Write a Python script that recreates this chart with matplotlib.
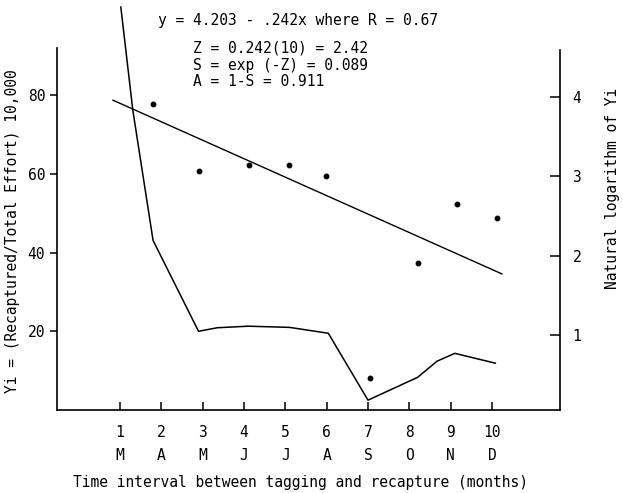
import matplotlib
matplotlib.use("Agg")
import matplotlib.pyplot as plt

W, H = 623, 493
plt.rcParams['font.family'] = ['DejaVu Sans Mono']
plt.rcParams['font.size'] = 10.5

# Data
interval_ticks = [1, 2, 3, 4, 5, 6, 7, 8, 9, 10]
month_labels = ['M', 'A', 'M', 'J', 'J', 'A', 'S', 'O', 'N', 'D']
left_ticks = [20, 40, 60, 80]
right_ticks = [1, 2, 3, 4]

# Yi curve (left axis)
yi_x = [1.02, 1.31, 1.80, 2.90, 3.35, 4.10, 5.10, 6.04, 7.00, 8.20, 8.67, 9.10, 10.08]
yi_y = [102.4, 76.2, 43.1, 20.0, 20.9, 21.3, 21.0, 19.5, 2.5, 8.3, 12.4, 14.4, 11.9]

# ln(Yi) points (right axis)
ln_x = [1.79, 2.91, 4.12, 5.10, 5.99, 7.05, 8.20, 9.16, 10.13]
ln_y = [3.91, 3.07, 3.14, 3.14, 3.00, 0.46, 1.91, 2.65, 2.47]

# Regression line endpoints (right axis)
reg_x = [0.83, 10.24]
reg_y = [3.96, 1.77]

eq_text = "y = 4.203 - .242x where R = 0.67"
calc_lines = ["Z = 0.242(10) = 2.42", "S = exp (-Z) = 0.089", "A = 1-S = 0.911"]
xlabel = "Time interval between tagging and recapture (months)"
ylabel_left = "Yi = (Recaptured/Total Effort) 10,000"
ylabel_right = "Natural logarithm of Yi"

fig = plt.figure(figsize=(W / 100, H / 100), dpi=100)
ax = fig.add_axes([57 / W, (H - 410) / H, (560 - 57) / W, 410 / H])
ax.set_xlim(-0.524, 11.645)
ax.set_ylim(0, 104.2)

ax.plot(yi_x, yi_y, color='black', lw=1.1)

for s in ['top', 'right']:
    ax.spines[s].set_visible(False)
ax.spines['left'].set_bounds(0, 92)
ax.spines['left'].set_linewidth(1.2)
ax.spines['bottom'].set_linewidth(1.2)

ax.set_yticks(left_ticks)
ax.set_yticklabels([str(v) for v in left_ticks])
ax.tick_params(axis='y', direction='out', length=5, width=1.1, pad=3.5)
ax.set_xticks(interval_ticks)
ax.set_xticklabels([str(v) for v in interval_ticks])
ax.tick_params(axis='x', direction='in', length=6, width=1.1, pad=11)

for xv, m in zip(interval_ticks, month_labels):
    ax.text(xv, -45 / 410, m, transform=ax.get_xaxis_transform(),
            ha='center', va='center')

ax2 = ax.twinx()
ax2.set_ylim(0.0546, 5.223)
for s in ['top', 'left', 'bottom']:
    ax2.spines[s].set_visible(False)
ax2.spines['right'].set_bounds(0.0546, 4.59)
ax2.spines['right'].set_linewidth(1.2)
ax2.set_yticks(right_ticks)
ax2.set_yticklabels([str(v) for v in right_ticks])
ax2.tick_params(axis='y', direction='in', length=7, width=1.1, pad=9)

ax2.plot(ln_x, ln_y, linestyle='none', marker='o', markersize=3.2, color='black')
ax2.plot(reg_x, reg_y, color='black', lw=1.0)

fig.text(158 / W, 1 - 20 / H, eq_text, ha='left', va='center')
for i, line in enumerate(calc_lines):
    fig.text(193 / W, 1 - (48 + 17 * i) / H, line, ha='left', va='center',
             linespacing=1.0)

fig.text(300.5 / W, 1 - 483 / H, xlabel, ha='center', va='center')
fig.text(13 / W, 1 - 231 / H, ylabel_left, ha='center', va='center', rotation=90)
fig.text(612 / W, 1 - 188 / H, ylabel_right, ha='center', va='center', rotation=90)

fig.savefig("out.png", dpi=100)
